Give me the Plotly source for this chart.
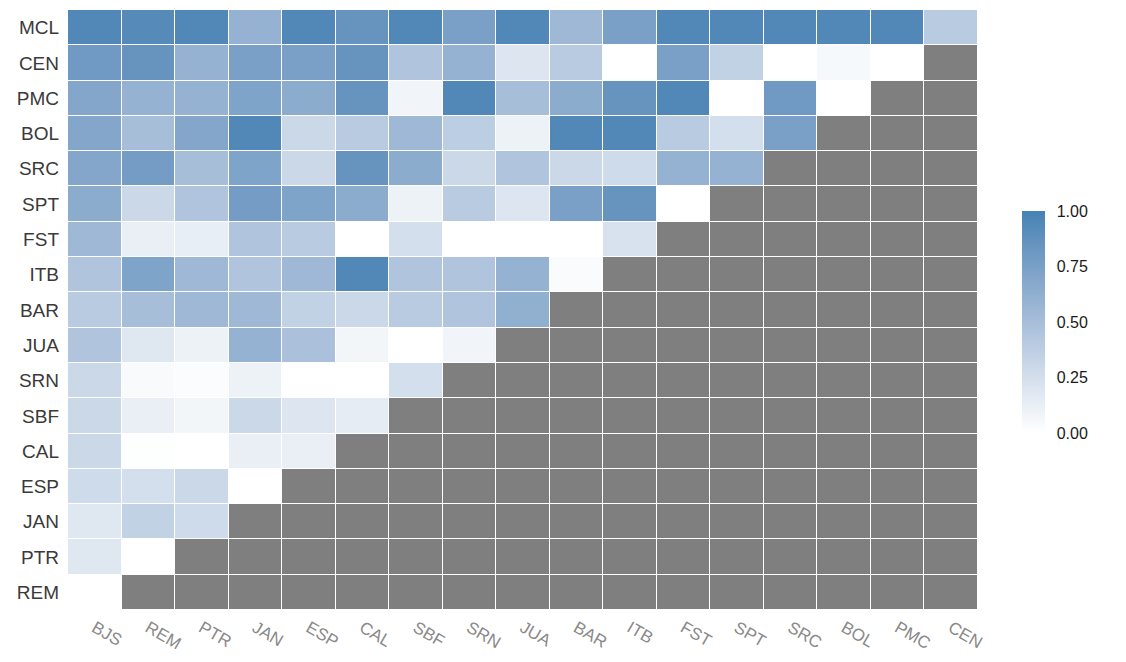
import numpy as np
import plotly.graph_objects as go

columns = ["BJS", "REM", "PTR", "JAN", "ESP", "CAL", "SBF", "SRN", "JUA",
           "BAR", "ITB", "FST", "SPT", "SRC", "BOL", "PMC", "CEN"]

# rows listed top to bottom; each row has values for the first N columns
MCL = [0.95, 0.93, 0.95, 0.60, 0.95, 0.85, 0.95, 0.75, 0.95, 0.55, 0.75, 0.95, 0.95, 0.95, 0.95, 0.95, 0.40]
CEN = [0.80, 0.85, 0.60, 0.75, 0.75, 0.85, 0.45, 0.60, 0.20, 0.40, 0.00, 0.75, 0.35, 0.00, 0.05, 0.00]
PMC = [0.70, 0.60, 0.60, 0.72, 0.65, 0.85, 0.08, 0.95, 0.50, 0.65, 0.85, 0.95, 0.00, 0.80, 0.00]
BOL = [0.70, 0.50, 0.70, 0.95, 0.30, 0.40, 0.55, 0.38, 0.10, 0.95, 0.95, 0.40, 0.25, 0.75]
SRC = [0.70, 0.78, 0.50, 0.72, 0.30, 0.85, 0.65, 0.30, 0.45, 0.30, 0.28, 0.60, 0.60]
SPT = [0.65, 0.30, 0.45, 0.78, 0.72, 0.65, 0.10, 0.40, 0.20, 0.75, 0.85, 0.00]
FST = [0.55, 0.12, 0.13, 0.45, 0.40, 0.00, 0.25, 0.00, 0.00, 0.00, 0.22]
ITB = [0.45, 0.72, 0.55, 0.45, 0.55, 0.95, 0.45, 0.45, 0.60, 0.03]
BAR = [0.40, 0.50, 0.55, 0.55, 0.35, 0.30, 0.40, 0.45, 0.62]
JUA = [0.45, 0.18, 0.10, 0.60, 0.48, 0.07, 0.00, 0.08]
SRN = [0.30, 0.04, 0.02, 0.10, 0.00, 0.00, 0.25]
SBF = [0.30, 0.12, 0.07, 0.30, 0.20, 0.15]
CAL = [0.30, 0.01, 0.00, 0.12, 0.12]
ESP = [0.28, 0.25, 0.30, 0.00]
JAN = [0.18, 0.35, 0.28]
PTR = [0.18, 0.00]
REM = [0.00]

row_names = ["REM", "PTR", "JAN", "ESP", "CAL", "SBF", "SRN", "JUA", "BAR",
             "ITB", "FST", "SPT", "SRC", "BOL", "PMC", "CEN", "MCL"]
row_values = [REM, PTR, JAN, ESP, CAL, SBF, SRN, JUA, BAR,
              ITB, FST, SPT, SRC, BOL, PMC, CEN, MCL]

ncol = len(columns)
z = np.full((len(row_names), ncol), np.nan)
for i, vals in enumerate(row_values):
    z[i, :len(vals)] = vals
na_mask = np.where(np.isnan(z), 1.0, np.nan)


# white -> steelblue gradient interpolated in Lab space (like ggplot2)
def srgb_to_lin(c):
    c = c / 255.0
    return np.where(c <= 0.04045, c / 12.92, ((c + 0.055) / 1.055) ** 2.4)


def lin_to_srgb(c):
    c = np.clip(c, 0, 1)
    v = np.where(c <= 0.0031308, 12.92 * c, 1.055 * c ** (1 / 2.4) - 0.055)
    return np.clip(np.round(v * 255), 0, 255).astype(int)


M = np.array([[0.4124, 0.3576, 0.1805], [0.2126, 0.7152, 0.0722], [0.0193, 0.1192, 0.9505]])
Minv = np.linalg.inv(M)
wp = np.array([0.95047, 1.0, 1.08883])


def f(t):
    return np.where(t > (6 / 29) ** 3, np.cbrt(t), t / (3 * (6 / 29) ** 2) + 4 / 29)


def finv(t):
    return np.where(t > 6 / 29, t ** 3, 3 * (6 / 29) ** 2 * (t - 4 / 29))


def to_lab(rgb):
    xyz = M @ srgb_to_lin(np.array(rgb, float)) / wp
    fx, fy, fz = f(xyz)
    return np.array([116 * fy - 16, 500 * (fx - fy), 200 * (fy - fz)])


def from_lab(lab):
    L, a, b = lab
    fy = (L + 16) / 116
    xyz = np.array([finv(fy + a / 500), finv(fy), finv(fy - b / 200)]) * wp
    return lin_to_srgb(Minv @ xyz)


lo, hi = to_lab([255, 255, 255]), to_lab([70, 130, 180])
colorscale = []
for t in np.linspace(0, 1, 11):
    r, g, b = from_lab(lo + (hi - lo) * t)
    colorscale.append([float(t), f"rgb({r},{g},{b})"])

fig = go.Figure()
fig.add_trace(go.Heatmap(
    z=na_mask, x=columns, y=row_names,
    colorscale=[[0, "#7f7f7f"], [1, "#7f7f7f"]], showscale=False,
    xgap=1, ygap=1, hoverinfo="skip"))
fig.add_trace(go.Heatmap(
    z=z, x=columns, y=row_names, zmin=0, zmax=1,
    colorscale=colorscale,
    xgap=1, ygap=1,
    colorbar=dict(
        x=1.048, xanchor="left", y=0.48, yanchor="middle",
        len=0.37, thickness=23, outlinewidth=0, xpad=0, ypad=0,
        tickvals=[0, 0.25, 0.5, 0.75, 1.0],
        ticktext=["0.00", "0.25", "0.50", "0.75", "1.00"],
        ticks="outside", ticklen=9, tickcolor="white",
        tickfont=dict(size=16, color="#1a1a1a", family="Liberation Sans"),
    )))

fig.update_layout(
    width=1126, height=662,
    margin=dict(l=60, r=156, t=2, b=60, autoexpand=False),
    plot_bgcolor="white", paper_bgcolor="white",
    font=dict(family="Liberation Sans"),
)
fig.update_xaxes(categoryorder="array", categoryarray=columns,
                 tickangle=30, showgrid=False, zeroline=False, ticks="",
                 automargin=False, ticklabelstandoff=4,
                 tickfont=dict(size=17, color="#8a8a8a"))
fig.update_yaxes(categoryorder="array", categoryarray=row_names,
                 showgrid=False, zeroline=False, ticks="",
                 automargin=False, ticklabelstandoff=8,
                 tickfont=dict(size=19, color="#3a3a3a"))

fig.write_html("out.html")
